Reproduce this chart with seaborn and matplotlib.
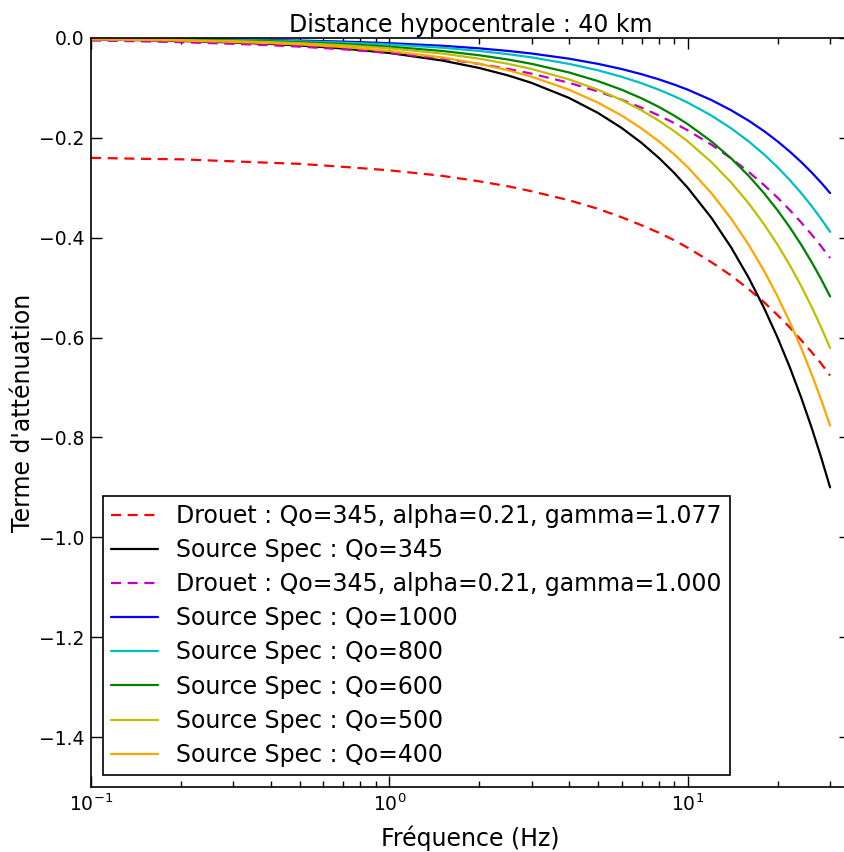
import numpy as np
import pandas as pd
import matplotlib
matplotlib.use('Agg')
import matplotlib.pyplot as plt
import seaborn as sns

# Fréquences (Hz) et termes d'atténuation
freqs = [0.1, 0.15, 0.2, 0.3, 0.4, 0.5, 0.7, 1, 1.5, 2, 2.5, 3, 4, 5, 6, 7, 8, 9, 10,
         12, 14, 16, 18, 20, 22, 24, 26, 28, 30]

drouet_1077 = [-0.240, -0.242, -0.243, -0.247, -0.250, -0.252, -0.258, -0.265, -0.276,
               -0.287, -0.297, -0.307, -0.325, -0.342, -0.359, -0.375, -0.390, -0.405,
               -0.420, -0.449, -0.476, -0.503, -0.529, -0.555, -0.580, -0.605, -0.629,
               -0.652, -0.676]
spec_345 = [-0.003, -0.0045, -0.006, -0.009, -0.012, -0.015, -0.021, -0.030, -0.045,
            -0.060, -0.075, -0.090, -0.120, -0.150, -0.180, -0.210, -0.240, -0.270,
            -0.300, -0.360, -0.420, -0.480, -0.540, -0.600, -0.660, -0.720, -0.780,
            -0.840, -0.900]
drouet_1000 = [-0.0049, -0.0067, -0.0084, -0.0116, -0.0145, -0.0173, -0.0226, -0.030,
               -0.0413, -0.0519, -0.0619, -0.0715, -0.0897, -0.107, -0.1235, -0.1396,
               -0.1551, -0.1702, -0.185, -0.2136, -0.2413, -0.2681, -0.2943, -0.3198,
               -0.3449, -0.3695, -0.3935, -0.4172, -0.4407]
spec_1000 = [-0.001, -0.0016, -0.0021, -0.0031, -0.0041, -0.0052, -0.0072, -0.0104,
             -0.0155, -0.0207, -0.0259, -0.0311, -0.0414, -0.0518, -0.0621, -0.0725,
             -0.0828, -0.0932, -0.1035, -0.1242, -0.1449, -0.1656, -0.1863, -0.207,
             -0.2277, -0.2484, -0.2691, -0.2898, -0.3105]
spec_800 = [-0.0013, -0.0019, -0.0026, -0.0039, -0.0052, -0.0065, -0.0091, -0.0129,
            -0.0194, -0.0259, -0.0324, -0.0388, -0.0518, -0.0647, -0.0776, -0.0906,
            -0.1035, -0.1165, -0.1294, -0.1553, -0.1812, -0.207, -0.2329, -0.2588,
            -0.2847, -0.3106, -0.3364, -0.3623, -0.3882]
spec_600 = [-0.0017, -0.0026, -0.0035, -0.0052, -0.0069, -0.0086, -0.0121, -0.0173,
            -0.0259, -0.0345, -0.0431, -0.0518, -0.069, -0.0863, -0.1035, -0.1208,
            -0.138, -0.1553, -0.1725, -0.207, -0.2415, -0.276, -0.3105, -0.345,
            -0.3795, -0.414, -0.4485, -0.483, -0.5175]
spec_500 = [-0.0021, -0.0031, -0.0041, -0.0062, -0.0083, -0.0104, -0.0145, -0.0207,
            -0.0311, -0.0414, -0.0518, -0.0621, -0.0828, -0.1035, -0.1242, -0.1449,
            -0.1656, -0.1863, -0.207, -0.2484, -0.2898, -0.3312, -0.3726, -0.414,
            -0.4554, -0.4968, -0.5382, -0.5796, -0.621]
spec_400 = [-0.0026, -0.0039, -0.0052, -0.0078, -0.0104, -0.0129, -0.0181, -0.0259,
            -0.0388, -0.0518, -0.0647, -0.0776, -0.1035, -0.1294, -0.1553, -0.1812,
            -0.207, -0.2329, -0.2588, -0.3106, -0.3623, -0.4141, -0.4658, -0.5176,
            -0.5694, -0.6211, -0.6729, -0.7246, -0.7764]

labels = ['Drouet : Qo=345, alpha=0.21, gamma=1.077',
          'Source Spec : Qo=345',
          'Drouet : Qo=345, alpha=0.21, gamma=1.000',
          'Source Spec : Qo=1000',
          'Source Spec : Qo=800',
          'Source Spec : Qo=600',
          'Source Spec : Qo=500',
          'Source Spec : Qo=400']
series = [drouet_1077, spec_345, drouet_1000, spec_1000, spec_800, spec_600, spec_500, spec_400]
colors = ['r', 'k', 'm', 'b', 'c', 'g', 'y', 'orange']
dashed = (0, (4.5, 3))
styles = [dashed, '-', dashed, '-', '-', '-', '-', '-']

sns.set_style('ticks')
plt.rcParams['font.family'] = ['DejaVu Sans']
plt.rcParams['text.color'] = 'k'
plt.rcParams['axes.labelcolor'] = 'k'
plt.rcParams['xtick.color'] = 'k'
plt.rcParams['ytick.color'] = 'k'
plt.rcParams['xtick.direction'] = 'in'
plt.rcParams['ytick.direction'] = 'in'
plt.rcParams['xtick.top'] = True
plt.rcParams['ytick.right'] = True

fig, ax = plt.subplots(figsize=(8.45, 8.52), dpi=100)
fig.subplots_adjust(left=0.1077, right=1.006, top=0.9554, bottom=0.0763)

for vals, lab, col, ls in zip(series, labels, colors, styles):
    sns.lineplot(x=freqs, y=vals, ax=ax, color=col, linewidth=1.6,
                 label=lab, dashes=False)
    ax.lines[-1].set_linestyle(ls)

ax.set_xscale('log')
ax.set_xlim(0.1, 35)
ax.set_ylim(-1.5, 0.0)
ax.set_yticks(np.arange(-1.4, 0.01, 0.2))
ax.set_yticklabels(['−1.4', '−1.2', '−1.0', '−0.8', '−0.6', '−0.4', '−0.2', '0.0'])
ax.tick_params(which='major', length=8, width=1, labelsize=13.5, pad=5)
ax.tick_params(which='minor', length=4, width=1)
for sp in ax.spines.values():
    sp.set_color('k')
    sp.set_linewidth(1.2)

ax.set_title('Distance hypocentrale : 40 km', fontsize=17, pad=4)
ax.set_xlabel('Fréquence (Hz)', fontsize=17)
ax.set_ylabel("Terme d'atténuation", fontsize=17)
ax.xaxis.set_label_coords(0.5, -0.052)
ax.yaxis.set_label_coords(-0.074, 0.5)

leg = ax.legend(loc='lower left', fontsize=17, frameon=True, fancybox=False,
                handlelength=2.0, handletextpad=0.75, borderpad=0.35,
                labelspacing=0.43, borderaxespad=0.5)
leg.get_frame().set_edgecolor('k')
leg.get_frame().set_linewidth(1.2)
leg.get_frame().set_alpha(1)

fig.savefig('out.png', dpi=100)
